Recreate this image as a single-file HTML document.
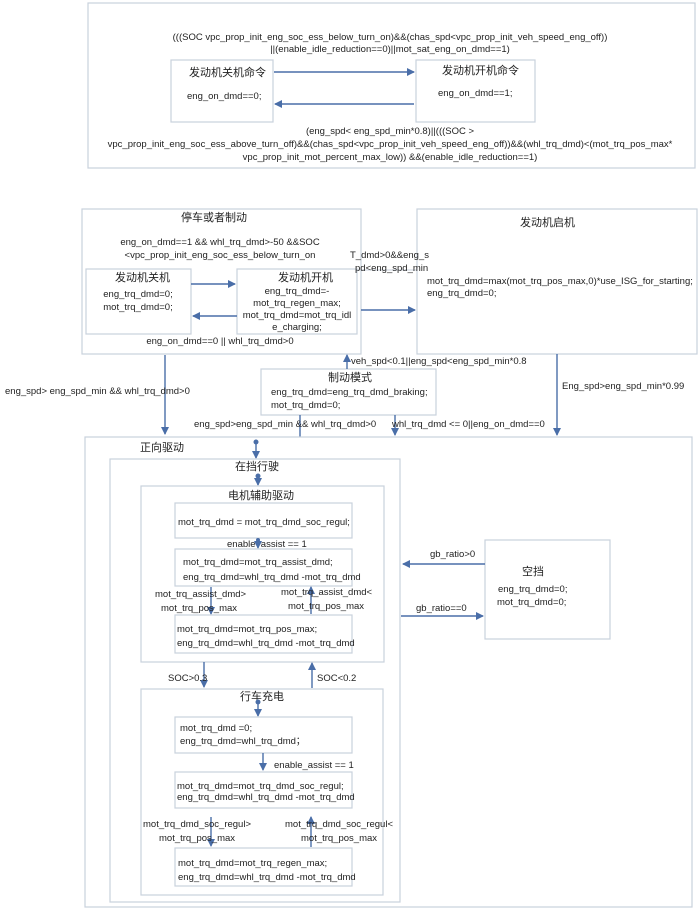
<!DOCTYPE html>
<html><head><meta charset="utf-8"><style>
html,body{margin:0;padding:0;background:#fff;}
svg{display:block;}
text{font-family:"Liberation Sans","Noto Sans CJK SC",sans-serif;font-size:9.5px;fill:#222;}
.t{font-size:11px;}
.b{fill:#fff;stroke:#c9d1dc;stroke-width:1.2;}
.a{stroke:#4a6ea8;stroke-width:1.4;fill:none;}
.h{fill:#4a6ea8;}
</style></head><body>
<svg width="700" height="910" viewBox="0 0 700 910" xmlns="http://www.w3.org/2000/svg">
<defs><marker id="m" markerWidth="8" markerHeight="8" refX="7" refY="4" orient="auto" markerUnits="userSpaceOnUse"><path d="M0,0 L8,4 L0,8 z" fill="#4a6ea8"/></marker></defs>

<!-- top -->
<rect class="b" x="88" y="3" width="607" height="165"/>
<text x="390" y="40" text-anchor="middle">(((SOC vpc_prop_init_eng_soc_ess_below_turn_on)&amp;&amp;(chas_spd&lt;vpc_prop_init_veh_speed_eng_off))</text>
<text x="390" y="52" text-anchor="middle">||(enable_idle_reduction==0)||mot_sat_eng_on_dmd==1)</text>
<rect class="b" x="171" y="60" width="102" height="62"/>
<rect class="b" x="416" y="60" width="119" height="62"/>
<text class="t" x="189" y="76">发动机关机命令</text>
<text x="187" y="99">eng_on_dmd==0;</text>
<text class="t" x="442" y="74">发动机开机命令</text>
<text x="438" y="96">eng_on_dmd==1;</text>
<line class="a" x1="274" y1="72" x2="414" y2="72" marker-end="url(#m)"/>
<line class="a" x1="414" y1="104" x2="275" y2="104" marker-end="url(#m)"/>
<text x="390" y="134" text-anchor="middle">(eng_spd&lt; eng_spd_min*0.8)||(((SOC &gt;</text>
<text x="390" y="147" text-anchor="middle">vpc_prop_init_eng_soc_ess_above_turn_off)&amp;&amp;(chas_spd&lt;vpc_prop_init_veh_speed_eng_off))&amp;&amp;(whl_trq_dmd)&lt;(mot_trq_pos_max*</text>
<text x="390" y="160" text-anchor="middle">vpc_prop_init_mot_percent_max_low)) &amp;&amp;(enable_idle_reduction==1)</text>

<!-- stop/brake -->
<rect class="b" x="82" y="209" width="279" height="145"/>
<text class="t" x="181" y="221">停车或者制动</text>
<text x="220" y="245" text-anchor="middle">eng_on_dmd==1 &amp;&amp; whl_trq_dmd&gt;-50 &amp;&amp;SOC</text>
<text x="220" y="258" text-anchor="middle">&lt;vpc_prop_init_eng_soc_ess_below_turn_on</text>
<rect class="b" x="86" y="269" width="105" height="65"/>
<rect class="b" x="237" y="269" width="120" height="65"/>
<line x1="357" y1="270" x2="418" y2="270" stroke="#c9d1dc"/>
<text class="t" x="115" y="281">发动机关机</text>
<text x="138" y="297" text-anchor="middle">eng_trq_dmd=0;</text>
<text x="138" y="310" text-anchor="middle">mot_trq_dmd=0;</text>
<text class="t" x="278" y="281">发动机开机</text>
<text x="297" y="294" text-anchor="middle">eng_trq_dmd=-</text>
<text x="297" y="306" text-anchor="middle">mot_trq_regen_max;</text>
<text x="297" y="318" text-anchor="middle">mot_trq_dmd=mot_trq_idl</text>
<text x="297" y="330" text-anchor="middle">e_charging;</text>
<line class="a" x1="191" y1="284" x2="235" y2="284" marker-end="url(#m)"/>
<line class="a" x1="237" y1="316" x2="193" y2="316" marker-end="url(#m)"/>
<text x="220" y="344" text-anchor="middle">eng_on_dmd==0 || whl_trq_dmd&gt;0</text>

<!-- engine start -->
<rect class="b" x="417" y="209" width="280" height="145"/>
<text class="t" x="520" y="226">发动机启机</text>
<text x="427" y="284">mot_trq_dmd=max(mot_trq_pos_max,0)*use_ISG_for_starting;</text>
<text x="427" y="296">eng_trq_dmd=0;</text>
<line class="a" x1="361" y1="310" x2="415" y2="310" marker-end="url(#m)"/>
<text x="350" y="258">T_dmd&gt;0&amp;&amp;eng_s</text>
<text x="355" y="271">pd&lt;eng_spd_min</text>

<!-- braking -->
<rect class="b" x="261" y="369" width="175" height="46"/>
<text class="t" x="328" y="381">制动模式</text>
<text x="271" y="395">eng_trq_dmd=eng_trq_dmd_braking;</text>
<text x="271" y="408">mot_trq_dmd=0;</text>
<line class="a" x1="347" y1="369" x2="347" y2="355" marker-end="url(#m)"/>
<text x="351" y="364">veh_spd&lt;0.1||eng_spd&lt;eng_spd_min*0.8</text>
<line class="a" x1="165" y1="355" x2="165" y2="434" marker-end="url(#m)"/>
<text x="5" y="394">eng_spd&gt; eng_spd_min &amp;&amp; whl_trq_dmd&gt;0</text>
<line class="a" x1="557" y1="354" x2="557" y2="435" marker-end="url(#m)"/>
<text x="562" y="389">Eng_spd&gt;eng_spd_min*0.99</text>
<line class="a" x1="300" y1="437" x2="300" y2="415"/>
<text x="194" y="427">eng_spd&gt;eng_spd_min &amp;&amp; whl_trq_dmd&gt;0</text>
<line class="a" x1="395" y1="415" x2="395" y2="435" marker-end="url(#m)"/>
<text x="392" y="427">whl_trq_dmd &lt;= 0||eng_on_dmd==0</text>

<!-- forward drive -->
<rect class="b" x="85" y="437" width="607" height="470"/>
<text class="t" x="140" y="451">正向驱动</text>
<circle class="h" cx="256" cy="442" r="2.5"/>
<line class="a" x1="256" y1="442" x2="256" y2="458" marker-end="url(#m)"/>
<rect class="b" x="110" y="459" width="290" height="443"/>
<text class="t" x="235" y="470">在挡行驶</text>
<circle class="h" cx="258" cy="476" r="2.5"/>
<line class="a" x1="258" y1="476" x2="258" y2="485" marker-end="url(#m)"/>

<rect class="b" x="141" y="486" width="243" height="176"/>
<text class="t" x="228" y="499">电机辅助驱动</text>
<rect class="b" x="175" y="503" width="177" height="35"/>
<text x="178" y="525">mot_trq_dmd = mot_trq_dmd_soc_regul;</text>
<text x="227" y="547">enable_assist == 1</text>
<circle class="h" cx="258" cy="540" r="2"/>
<line class="a" x1="258" y1="540" x2="258" y2="548" marker-end="url(#m)"/>
<rect class="b" x="175" y="549" width="177" height="37"/>
<text x="183" y="565">mot_trq_dmd=mot_trq_assist_dmd;</text>
<text x="183" y="580">eng_trq_dmd=whl_trq_dmd -mot_trq_dmd</text>
<line class="a" x1="211" y1="587" x2="211" y2="614" marker-end="url(#m)"/>
<line class="a" x1="311" y1="614" x2="311" y2="587" marker-end="url(#m)"/>
<text x="155" y="597">mot_trq_assist_dmd&gt;</text>
<text x="161" y="611">mot_trq_pos_max</text>
<text x="281" y="595">mot_trq_assist_dmd&lt;</text>
<text x="288" y="609">mot_trq_pos_max</text>
<rect class="b" x="175" y="615" width="177" height="38"/>
<text x="177" y="632">mot_trq_dmd=mot_trq_pos_max;</text>
<text x="177" y="646">eng_trq_dmd=whl_trq_dmd -mot_trq_dmd</text>

<!-- gb neutral -->
<rect class="b" x="485" y="540" width="125" height="99"/>
<text class="t" x="522" y="575">空挡</text>
<text x="498" y="592">eng_trq_dmd=0;</text>
<text x="497" y="605">mot_trq_dmd=0;</text>
<line class="a" x1="485" y1="564" x2="403" y2="564" marker-end="url(#m)"/>
<text x="430" y="557">gb_ratio&gt;0</text>
<line class="a" x1="401" y1="616" x2="483" y2="616" marker-end="url(#m)"/>
<text x="416" y="611">gb_ratio==0</text>

<!-- SOC transitions -->
<line class="a" x1="204" y1="662" x2="204" y2="687" marker-end="url(#m)"/>
<text x="168" y="681">SOC&gt;0.3</text>
<line class="a" x1="312" y1="688" x2="312" y2="663" marker-end="url(#m)"/>
<text x="317" y="681">SOC&lt;0.2</text>

<!-- driving charge -->
<rect class="b" x="141" y="689" width="242" height="206"/>
<text class="t" x="240" y="700">行车充电</text>
<circle class="h" cx="258" cy="702" r="2.5"/>
<line class="a" x1="258" y1="702" x2="258" y2="716" marker-end="url(#m)"/>
<rect class="b" x="175" y="717" width="177" height="36"/>
<text x="180" y="731">mot_trq_dmd =0;</text>
<text x="180" y="744">eng_trq_dmd=whl_trq_dmd；</text>
<line class="a" x1="263" y1="753" x2="263" y2="770" marker-end="url(#m)"/>
<text x="274" y="768">enable_assist == 1</text>
<rect class="b" x="175" y="772" width="177" height="36"/>
<text x="177" y="789">mot_trq_dmd=mot_trq_dmd_soc_regul;</text>
<text x="177" y="800">eng_trq_dmd=whl_trq_dmd -mot_trq_dmd</text>
<line class="a" x1="211" y1="817" x2="211" y2="846" marker-end="url(#m)"/>
<line class="a" x1="311" y1="847" x2="311" y2="817" marker-end="url(#m)"/>
<text x="143" y="827">mot_trq_dmd_soc_regul&gt;</text>
<text x="159" y="841">mot_trq_pos_max</text>
<text x="285" y="827">mot_trq_dmd_soc_regul&lt;</text>
<text x="301" y="841">mot_trq_pos_max</text>
<rect class="b" x="175" y="848" width="177" height="38"/>
<text x="178" y="866">mot_trq_dmd=mot_trq_regen_max;</text>
<text x="178" y="880">eng_trq_dmd=whl_trq_dmd -mot_trq_dmd</text>
</svg>
</body></html>
